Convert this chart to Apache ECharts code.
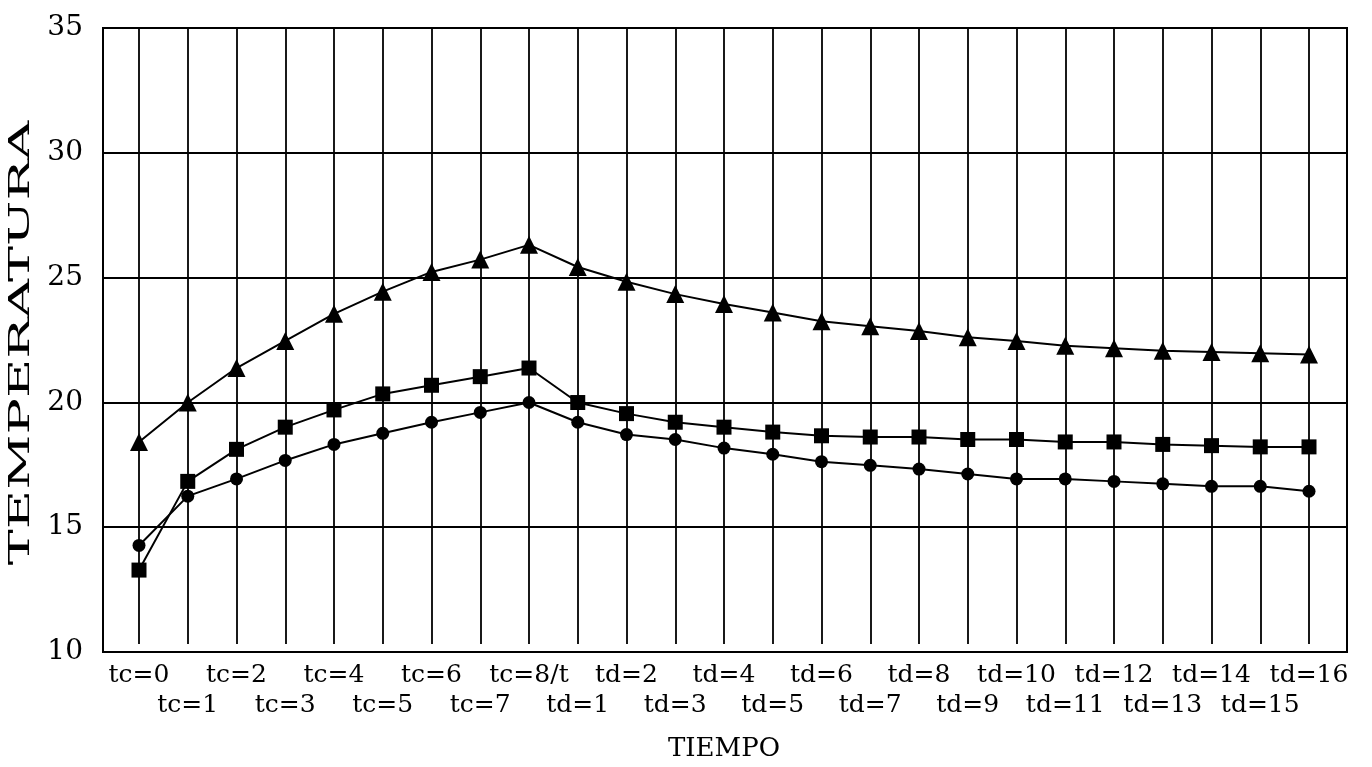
<!DOCTYPE html>
<html>
<head>
<meta charset="utf-8">
<script src="https://cdn.jsdelivr.net/npm/echarts@6/dist/echarts.min.js"></script>
<style>
html,body{margin:0;padding:0;background:#fff;}
#chart{width:1372px;height:767px;}
</style>
</head>
<body>
<div id="chart"></div>
<script>
var categories = ['tc=0','tc=1','tc=2','tc=3','tc=4','tc=5','tc=6','tc=7','tc=8/t',
  'td=1','td=2','td=3','td=4','td=5','td=6','td=7','td=8','td=9','td=10','td=11','td=12','td=13','td=14','td=15','td=16'];
var triangleSeries = [18.2,19.8,21.2,22.3,23.4,24.3,25.1,25.6,26.2,
  25.3,24.7,24.2,23.8,23.45,23.1,22.9,22.7,22.45,22.3,22.1,22.0,21.9,21.85,21.8,21.75];
var squareSeries = [13.0,16.6,17.9,18.8,19.5,20.15,20.5,20.85,21.2,
  19.8,19.35,19.0,18.8,18.6,18.45,18.4,18.4,18.3,18.3,18.2,18.2,18.1,18.05,18.0,18.0];
var circleSeries = [14.0,16.0,16.7,17.45,18.1,18.55,19.0,19.4,19.8,
  19.0,18.5,18.3,17.95,17.7,17.4,17.25,17.1,16.9,16.7,16.7,16.6,16.5,16.4,16.4,16.2];
var yMin = 10, yMax = 35, yStep = 5;

var chart = echarts.init(document.getElementById('chart'));
var serif = 'DejaVu Serif';
function lineSeries(name, data, symbol, size) {
  return {
    name: name, type: 'line', xAxisIndex: 1, yAxisIndex: 1, data: data,
    symbol: symbol, symbolSize: size, showSymbol: true,
    lineStyle: {color: '#000', width: 2},
    itemStyle: {color: '#000', borderWidth: 0},
    animation: false
  };
}
chart.setOption({
  backgroundColor: '#fff',
  animation: false,
  grid: [
    {left: 103, right: 25, top: 28, bottom: 115, show: true, borderColor: '#000', borderWidth: 2, backgroundColor: 'transparent'},
    {left: 139, right: 63, top: 28, bottom: 115, show: false}
  ],
  xAxis: [
    {type: 'value', gridIndex: 0, min: 0, max: 1, show: false},
    {type: 'category', gridIndex: 1, data: categories, boundaryGap: false,
     axisLine: {show: false}, axisTick: {show: false},
     splitLine: {show: true, lineStyle: {color: '#000', width: 1.8}},
     axisLabel: {interval: 0, margin: 16, color: '#000', fontFamily: serif, fontSize: 25, lineHeight: 30,
       formatter: function (v, i) { return i % 2 === 1 ? '\n' + v : v; }},
     name: 'TIEMPO', nameLocation: 'middle', nameGap: 92,
     nameTextStyle: {color: '#000', fontFamily: serif, fontSize: 26}}
  ],
  yAxis: [
    {type: 'value', gridIndex: 0, min: yMin, max: yMax, interval: yStep,
     axisLine: {show: false}, axisTick: {show: false},
     splitLine: {show: true, lineStyle: {color: '#000', width: 2}},
     axisLabel: {color: '#000', fontFamily: serif, fontSize: 28, margin: 20}},
    {type: 'value', gridIndex: 1, min: yMin, max: yMax, interval: yStep, show: false}
  ],
  graphic: [
    {type: 'text', x: 22, y: 343, rotation: Math.PI / 2, scaleX: 2.0, scaleY: 1,
     style: {text: 'TEMPERATURA', fill: '#000', font: '27px "DejaVu Serif"', align: 'center', verticalAlign: 'middle'}}
  ],
  series: [
    lineSeries('A', triangleSeries, 'triangle', 18),
    lineSeries('B', squareSeries, 'rect', 15),
    lineSeries('C', circleSeries, 'circle', 13)
  ]
});
</script>
</body>
</html>
